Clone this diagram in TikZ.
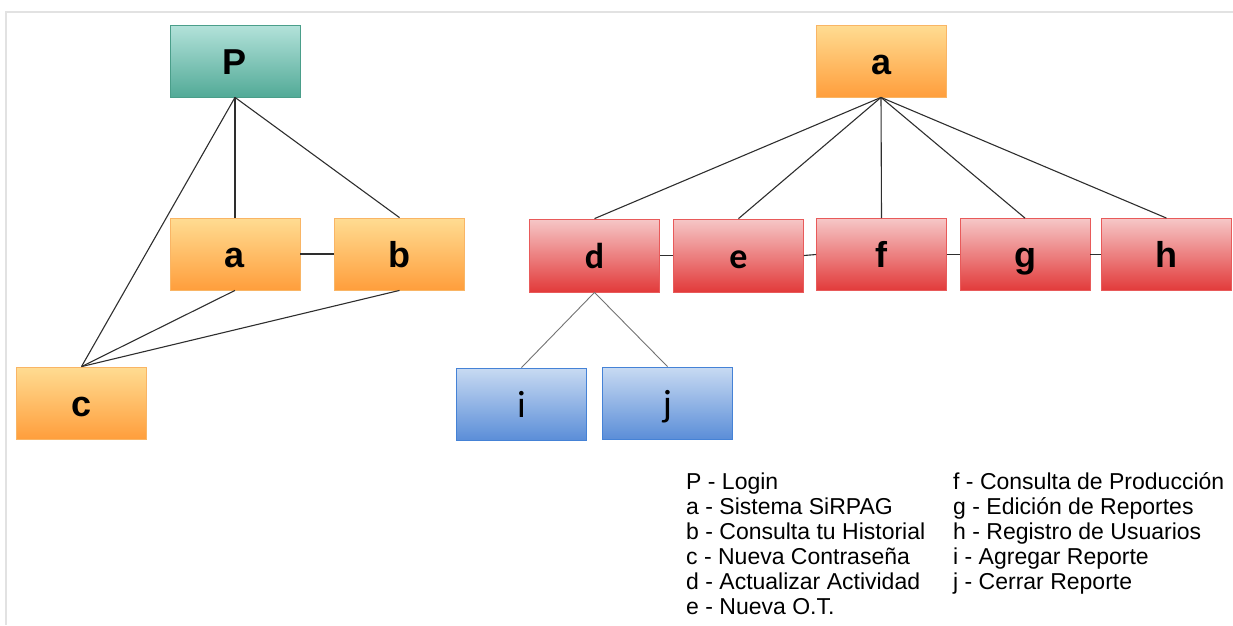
\documentclass[tikz,border=0pt]{standalone}
\usepackage{fontspec}
\setmainfont{Liberation Sans}
\newfontfamily\calfont{Carlito}
\begin{document}
\begin{tikzpicture}[x=1pt,y=-1pt,
  box/.style={rectangle, minimum width=130pt, minimum height=72pt, inner sep=0pt,
    text height=26pt, text depth=0pt,
    line width=0.8pt, font=\fontsize{36}{40}\selectfont\bfseries},
  tealbox/.style={box, draw=tealline, top color=tealtop, bottom color=tealbot},
  orangebox/.style={box, draw=orangeline, top color=orangetop, bottom color=orangebot},
  redbox/.style={box, draw=redline, top color=redtop, bottom color=redbot},
  bluebox/.style={box, draw=blueline, top color=bluetop, bottom color=bluebot},
  link/.style={draw=linkcol, line width=1.1pt},
  thinlink/.style={draw=gray!90!black, line width=0.9pt},
  legend/.style={anchor=base west, inner sep=0pt, font=\fontsize{23}{25}\selectfont}]
\definecolor{tealtop}{HTML}{B3E2DA}
\definecolor{tealbot}{HTML}{52AA97}
\definecolor{tealline}{HTML}{4A9E8A}
\definecolor{orangetop}{HTML}{FFDC92}
\definecolor{orangebot}{HTML}{FF9E3C}
\definecolor{orangeline}{HTML}{F9B565}
\definecolor{redtop}{HTML}{F6C7C7}
\definecolor{redbot}{HTML}{E23A3A}
\definecolor{redline}{HTML}{E85A5A}
\definecolor{bluetop}{HTML}{C8DAF2}
\definecolor{bluebot}{HTML}{5B8ED8}
\definecolor{blueline}{HTML}{4582D6}
\definecolor{linkcol}{HTML}{2E2E2E}
\definecolor{framecol}{HTML}{E2E2E2}

\useasboundingbox (0,0) rectangle (1233,625);

% page frame (top and left edges)
\draw[framecol, line width=2pt] (6,625) -- (6,11.5) -- (1233,11.5);

% left tree
\node[tealbox]   (P)  at (235,61)    {P};
\node[orangebox] (a1) at (235,254)   {a};
\node[orangebox] (b)  at (399.5,254) {b};
\node[orangebox] (c)  at (81.5,403)  {c};

\draw[link] (P.south) -- (a1.north);
\draw[link] (P.south) -- (b.north);
\draw[link] (P.south) -- (c.north);
\draw[link] (a1.east) -- (b.west);
\draw[link] (a1.south) -- (c.north);
\draw[link] (b.south) -- (c.north);

% right tree
\node[orangebox] (a2) at (881,61) {a};
\node[redbox, minimum height=73pt, font=\fontsize{36}{40}\selectfont\calfont\bfseries] (d) at (594.5,255.5) {d};
\node[redbox, minimum height=73pt, font=\fontsize{36}{40}\selectfont\calfont\bfseries] (e) at (738.5,255.5) {e};
\node[redbox] (f) at (881.5,254.5) {f};
\node[redbox] (g) at (1025,254.5)  {g};
\node[redbox] (h) at (1166.5,254.5) {h};
\node[bluebox, font=\fontsize{38}{40}\selectfont\calfont] (i) at (521.5,404) {i};
\node[bluebox, font=\fontsize{38}{40}\selectfont\calfont] (j) at (667.5,403) {j};

\foreach \t in {d,e,f,g,h}
  \draw[link] (a2.south) -- (\t.north);
\draw[link] (d.east) -- (e.west);
\draw[link] (e.east) -- (f.west);
\draw[link] (f.east) -- (g.west);
\draw[link] (g.east) -- (h.west);
\draw[thinlink] (d.south) -- (i.north);
\draw[thinlink] (d.south) -- (j.north);

% legend
\node[legend] (l1) at (686,489) {P - Login};
\node[legend] (l2) at (686,514) {a - Sistema SiRPAG};
\node[legend] (l3) at (686,539) {b - Consulta tu Historial};
\node[legend] (l4) at (686,564) {c - Nueva Contraseña};
\node[legend] (l5) at (686,589) {d - Actualizar Actividad};
\node[legend] (l6) at (686,614) {e - Nueva O.T.};
\node[legend] (r1) at (953,489) {f - Consulta de Producción};
\node[legend] (r2) at (953,514) {g - Edición de Reportes};
\node[legend] (r3) at (953,539) {h - Registro de Usuarios};
\node[legend] (r4) at (953,564) {i - Agregar Reporte};
\node[legend] (r5) at (953,589) {j - Cerrar Reporte};
\end{tikzpicture}
\end{document}
